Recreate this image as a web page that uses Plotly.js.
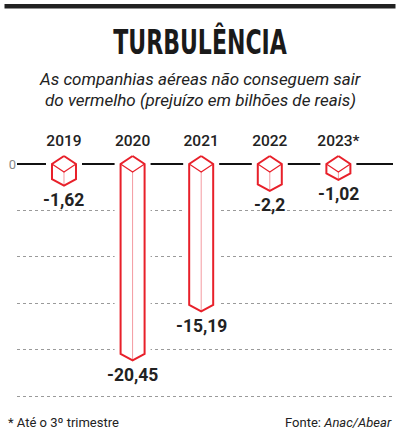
<!DOCTYPE html>
<html><head><meta charset="utf-8">
<script src="https://cdn.plot.ly/plotly-3.0.1.min.js"></script>
<style>html,body{margin:0;padding:0;background:#fff}</style>
</head><body><div id="chart" style="width:400px;height:432px"></div>
<script>
// ---- data ----
const years = ['2019', '2020', '2021', '2022', '2023*'];
const losses = [-1.62, -20.45, -15.19, -2.2, -1.02];
const gridTicks = [-25, -20, -15, -10, -5, 0];
const gridTickText = ['', '', '', '', '', '0'];

// ---- layout geometry ----
const W = 400, H = 432, M = {l: 17, r: 7, t: 150, b: 32, pad: 0};
const xr = [-0.685, 4.796], yr = [-25.43, 1.509];
const sx = (W - M.l - M.r) / (xr[1] - xr[0]);
const sy = (H - M.t - M.b) / (yr[1] - yr[0]);
const halfW = 12 / sx, topH = 8 / sy, botH = 6.5 / sy;
const RED = '#e8202a', PINK = '#f49aa0';

const ox = [], oy = [], ix = [], iy = [], fx = [], fy = [];
losses.forEach((v, i) => {
  const L = i - halfW, R = i + halfW;
  ox.push(i, R, R, i, L, L, i, null);
  oy.push(topH, 0, v, v - botH, v, 0, topH, null);
  ix.push(L, i, R, null);
  iy.push(0, -topH, 0, null);
  fx.push(i, i, null);
  fy.push(-topH, v - botH, null);
});

const traces = [
  {x: ox, y: oy, mode: 'lines', fill: 'toself', fillcolor: '#ffffff',
   line: {color: '#ffffff', width: 12}, hoverinfo: 'skip'},
  {x: fx, y: fy, mode: 'lines', line: {color: PINK, width: 1}, hoverinfo: 'skip'},
  {x: ix, y: iy, mode: 'lines', line: {color: RED, width: 1.2}, hoverinfo: 'skip'},
  {x: ox, y: oy, mode: 'lines', line: {color: RED, width: 2}, hoverinfo: 'skip'}
];

const fmt = v => String(v).replace('.', ',');
const annotations = losses.map((v, i) => ({
  x: i, y: v, xref: 'x', yref: 'y', yshift: -21, showarrow: false,
  text: fmt(v), font: {family: 'Roboto', size: 17.5, weight: 700, color: '#222'},
  xanchor: 'center', yanchor: 'middle'
}));
const pw = W - M.l - M.r, ph = H - M.t - M.b;
const px2x = p => (p - M.l) / pw, py2y = p => (H - M.b - p) / ph;
annotations.push(
  {xref: 'paper', yref: 'paper', x: px2x(200), y: py2y(79), showarrow: false,
   text: 'As companhias aéreas não conseguem sair', xanchor: 'center', yanchor: 'middle',
   font: {family: 'Roboto', size: 17, style: 'italic', color: '#222'}},
  {xref: 'paper', yref: 'paper', x: px2x(200), y: py2y(99.5), showarrow: false,
   text: 'do vermelho (prejuízo em bilhões de reais)', xanchor: 'center', yanchor: 'middle',
   font: {family: 'Roboto', size: 17, style: 'italic', color: '#222'}},
  {xref: 'paper', yref: 'paper', x: px2x(6), y: py2y(422), showarrow: false,
   text: '* Até o 3º trimestre', xanchor: 'left', yanchor: 'middle',
   font: {family: 'Roboto', size: 13, color: '#222'}},
  {xref: 'paper', yref: 'paper', x: px2x(394), y: py2y(422), showarrow: false,
   text: 'Fonte: <i>Anac/Abear</i>', xanchor: 'right', yanchor: 'middle',
   font: {family: 'Roboto', size: 13, color: '#222'}}
);

const layout = {
  width: W, height: H, margin: M, showlegend: false,
  paper_bgcolor: '#fff', plot_bgcolor: '#fff',
  title: {text: 'TURBULÊNCIA', x: 0.5, xref: 'container', xanchor: 'center',
          y: 1 - 42 / H, yref: 'container', yanchor: 'middle',
          font: {family: 'DejaVu Sans Condensed, DejaVu Sans', size: 34, weight: 700, color: '#1a1a1a'}},
  xaxis: {range: xr, side: 'top', tickmode: 'array', tickvals: years.map((_, i) => i),
          ticktext: years, showgrid: false, zeroline: false, showline: false, ticks: '',
          tickfont: {family: 'Roboto', size: 15.5, weight: 500, color: '#222'}, fixedrange: true},
  yaxis: {range: yr, tickmode: 'array', tickvals: gridTicks, ticktext: gridTickText,
          showgrid: true, griddash: 'dot', gridcolor: '#9a9a9a', gridwidth: 1,
          zeroline: true, zerolinecolor: '#111', zerolinewidth: 1.5, showline: false, ticks: '',
          tickfont: {family: 'Roboto', size: 13, color: '#888'}, fixedrange: true},
  shapes: [{type: 'rect', xref: 'paper', yref: 'paper', x0: px2x(4.5), x1: px2x(395.5),
            y0: py2y(8.5), y1: py2y(4), fillcolor: '#222', line: {width: 0}}],
  annotations: annotations
};
Plotly.newPlot('chart', traces, layout, {displayModeBar: false, staticPlot: true}).then(gd => {
  // narrow the title horizontally to mimic the condensed display face
  const t = gd.querySelector('.gtitle');
  if (t) {
    const bb = t.getBBox();
    const k = 174 / bb.width;
    const cx = bb.x + bb.width / 2;
    const prev = t.getAttribute('transform') || '';
    t.setAttribute('transform', prev + ` translate(${cx},0) scale(${k},1) translate(${-cx},0)`);
  }
});
</script></body></html>
